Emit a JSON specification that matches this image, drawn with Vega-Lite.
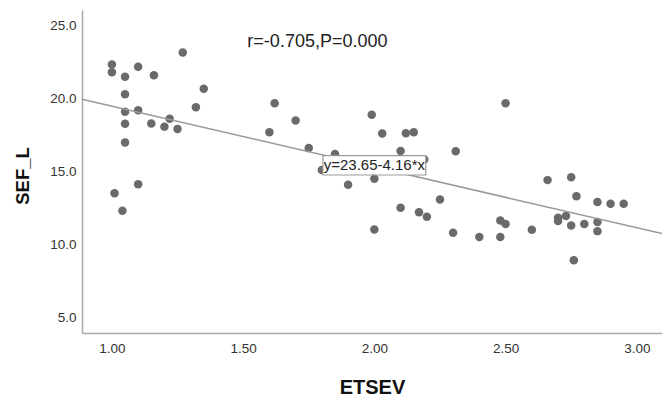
{
  "$schema": "https://vega.github.io/schema/vega-lite/v6.json",
  "width": 580,
  "height": 323,
  "autosize": {"type": "none"},
  "padding": {"left": 82, "top": 10, "right": 0, "bottom": 65},
  "background": "white",
  "config": {"view": {"stroke": null}, "font": "Liberation Sans"},
  "layer": [
    {
      "data": {"values": [
        {"ETSEV": 1.00, "SEF_L": 22.34}, {"ETSEV": 1.00, "SEF_L": 21.81}, {"ETSEV": 1.01, "SEF_L": 13.53},
        {"ETSEV": 1.04, "SEF_L": 12.34}, {"ETSEV": 1.05, "SEF_L": 21.50}, {"ETSEV": 1.05, "SEF_L": 20.31},
        {"ETSEV": 1.05, "SEF_L": 19.11}, {"ETSEV": 1.05, "SEF_L": 18.29}, {"ETSEV": 1.05, "SEF_L": 17.00},
        {"ETSEV": 1.10, "SEF_L": 22.19}, {"ETSEV": 1.10, "SEF_L": 19.21}, {"ETSEV": 1.10, "SEF_L": 14.15},
        {"ETSEV": 1.15, "SEF_L": 18.30}, {"ETSEV": 1.16, "SEF_L": 21.60}, {"ETSEV": 1.20, "SEF_L": 18.09},
        {"ETSEV": 1.22, "SEF_L": 18.63}, {"ETSEV": 1.25, "SEF_L": 17.93}, {"ETSEV": 1.27, "SEF_L": 23.17},
        {"ETSEV": 1.32, "SEF_L": 19.41}, {"ETSEV": 1.35, "SEF_L": 20.68}, {"ETSEV": 1.60, "SEF_L": 17.70},
        {"ETSEV": 1.62, "SEF_L": 19.69}, {"ETSEV": 1.70, "SEF_L": 18.51}, {"ETSEV": 1.75, "SEF_L": 16.63},
        {"ETSEV": 1.80, "SEF_L": 15.12}, {"ETSEV": 1.85, "SEF_L": 16.22}, {"ETSEV": 1.90, "SEF_L": 14.12},
        {"ETSEV": 1.99, "SEF_L": 18.91}, {"ETSEV": 2.00, "SEF_L": 14.53}, {"ETSEV": 2.00, "SEF_L": 11.05},
        {"ETSEV": 2.03, "SEF_L": 17.62}, {"ETSEV": 2.10, "SEF_L": 16.42}, {"ETSEV": 2.10, "SEF_L": 12.54},
        {"ETSEV": 2.12, "SEF_L": 17.63}, {"ETSEV": 2.15, "SEF_L": 17.70}, {"ETSEV": 2.17, "SEF_L": 12.23},
        {"ETSEV": 2.19, "SEF_L": 15.84}, {"ETSEV": 2.20, "SEF_L": 11.93}, {"ETSEV": 2.25, "SEF_L": 13.11},
        {"ETSEV": 2.30, "SEF_L": 10.83}, {"ETSEV": 2.31, "SEF_L": 16.40}, {"ETSEV": 2.40, "SEF_L": 10.54},
        {"ETSEV": 2.48, "SEF_L": 11.66}, {"ETSEV": 2.50, "SEF_L": 11.43}, {"ETSEV": 2.48, "SEF_L": 10.54},
        {"ETSEV": 2.50, "SEF_L": 19.69}, {"ETSEV": 2.60, "SEF_L": 11.03}, {"ETSEV": 2.66, "SEF_L": 14.43},
        {"ETSEV": 2.70, "SEF_L": 11.85}, {"ETSEV": 2.70, "SEF_L": 11.63}, {"ETSEV": 2.73, "SEF_L": 11.98},
        {"ETSEV": 2.75, "SEF_L": 14.62}, {"ETSEV": 2.75, "SEF_L": 11.33}, {"ETSEV": 2.76, "SEF_L": 8.95},
        {"ETSEV": 2.77, "SEF_L": 13.33}, {"ETSEV": 2.80, "SEF_L": 11.43}, {"ETSEV": 2.85, "SEF_L": 12.93},
        {"ETSEV": 2.85, "SEF_L": 11.57}, {"ETSEV": 2.85, "SEF_L": 10.94}, {"ETSEV": 2.90, "SEF_L": 12.82},
        {"ETSEV": 2.95, "SEF_L": 12.82}
      ]},
      "mark": {"type": "circle", "size": 72, "color": "#6a6a6a", "opacity": 1},
      "encoding": {
        "x": {
          "field": "ETSEV", "type": "quantitative",
          "scale": {"domain": [0.886, 3.096], "nice": false, "zero": false},
          "axis": {
            "values": [1, 1.5, 2, 2.5, 3], "format": ".2f", "grid": false,
            "ticks": false, "tickSize": 0, "labelPadding": 8,
            "labelFontSize": 13.5, "labelColor": "#333333", "labelFont": "Liberation Sans",
            "domainColor": "#a8a8a8", "domainWidth": 1.5,
            "title": "ETSEV", "titleFontSize": 20, "titleFontWeight": "bold", "titleColor": "#111111",
            "titleFont": "Liberation Sans", "titleBaseline": "alphabetic", "titleY": 60
          }
        },
        "y": {
          "field": "SEF_L", "type": "quantitative",
          "scale": {"domain": [3.97, 26.07], "nice": false, "zero": false},
          "axis": {
            "values": [5, 10, 15, 20, 25], "format": ".1f", "grid": false,
            "ticks": false, "tickSize": 0, "labelPadding": 6,
            "labelFontSize": 13.5, "labelColor": "#333333", "labelFont": "Liberation Sans",
            "domainColor": "#a8a8a8", "domainWidth": 1.5,
            "title": "SEF_L", "titleFontSize": 18.5, "titleFontWeight": "bold", "titleColor": "#111111",
            "titleFont": "Liberation Sans", "titleBaseline": "alphabetic", "titleAngle": -90,
            "titleAlign": "center", "titleX": -53.5, "titleY": 165.5
          }
        }
      }
    },
    {
      "data": {"values": [{"ETSEV": 0.886, "SEF_L": 19.964}, {"ETSEV": 3.096, "SEF_L": 10.771}]},
      "mark": {"type": "line", "color": "#9a9a9a", "strokeWidth": 1.5},
      "encoding": {
        "x": {"field": "ETSEV", "type": "quantitative"},
        "y": {"field": "SEF_L", "type": "quantitative"}
      }
    },
    {
      "data": {"values": [{"label": "y=23.65-4.16*x"}]},
      "mark": {"type": "rect", "fill": "white", "stroke": "#9a9a9a", "strokeWidth": 1.2},
      "encoding": {
        "x": {"datum": 1.804, "type": "quantitative"},
        "x2": {"datum": 2.196},
        "y": {"datum": 16.11, "type": "quantitative"},
        "y2": {"datum": 14.78}
      }
    },
    {
      "data": {"values": [{"label": "y=23.65-4.16*x"}]},
      "mark": {"type": "text", "fontSize": 15, "font": "Liberation Sans", "color": "#222222", "align": "center", "baseline": "middle"},
      "encoding": {
        "x": {"datum": 2.0, "type": "quantitative"},
        "y": {"datum": 15.44, "type": "quantitative"},
        "text": {"field": "label"}
      }
    },
    {
      "data": {"values": [{"label": "r=-0.705,P=0.000"}]},
      "mark": {"type": "text", "fontSize": 18, "font": "Liberation Sans", "color": "#222222", "align": "center", "baseline": "middle"},
      "encoding": {
        "x": {"datum": 1.783, "type": "quantitative"},
        "y": {"datum": 23.87, "type": "quantitative"},
        "text": {"field": "label"}
      }
    }
  ]
}
